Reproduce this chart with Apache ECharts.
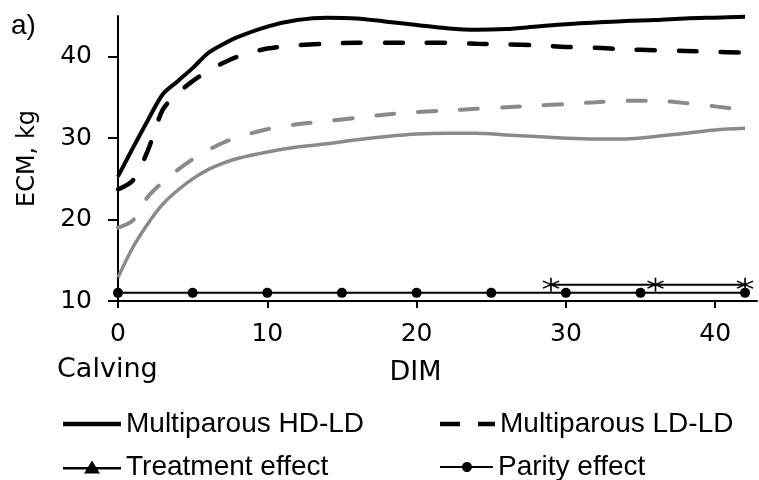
<!DOCTYPE html>
<html lang="en">
<head>
    <meta charset="UTF-8">
    <title>ECM by DIM</title>
    <script type="text/javascript" src="https://cdn.jsdelivr.net/npm/echarts@6/dist/echarts.min.js"></script>
    <style>
        html, body { margin: 0; padding: 0; background: #fff; }
        #main { width: 759px; height: 480px; }
    </style>
</head>
<body>
<div id="main"></div>
<script>
    // days in milk
    var days = [0, 1, 2, 3, 4, 5, 6, 7, 8, 10, 12, 14, 16, 18, 20, 22, 24, 26, 28, 30, 32, 34, 36, 38, 40, 42];
    // multiparous curves (black)
    var multiHD = [25.3, 28.8, 32.2, 35.4, 37.0, 38.6, 40.4, 41.5, 42.4, 43.7, 44.5, 44.8, 44.7, 44.3, 43.9, 43.5, 43.3, 43.4, 43.7, 44.0, 44.2, 44.4, 44.5, 44.7, 44.8, 44.9];
    var multiLD = [23.7, 24.8, 28.5, 33.5, 35.5, 37.0, 38.2, 39.2, 40.0, 41.0, 41.4, 41.6, 41.7, 41.7, 41.7, 41.7, 41.6, 41.5, 41.4, 41.2, 41.1, 40.9, 40.8, 40.7, 40.6, 40.5];
    // primiparous curves (grey)
    var primiDashed = [19.0, 19.9, 22.8, 24.6, 26.1, 27.4, 28.5, 29.4, 30.1, 31.1, 31.7, 32.1, 32.5, 32.9, 33.2, 33.4, 33.6, 33.8, 34.0, 34.2, 34.4, 34.6, 34.6, 34.3, 33.9, 33.4];
    var primiSolid = [12.9, 16.6, 19.5, 21.9, 23.6, 25.0, 26.1, 26.9, 27.5, 28.3, 28.9, 29.3, 29.8, 30.2, 30.5, 30.6, 30.6, 30.4, 30.2, 30.0, 29.9, 29.9, 30.2, 30.6, 31.0, 31.2];
    // significance markers
    var parityDays = [0, 5, 10, 15, 20, 25, 30, 35, 42];
    var parityValues = [11, 11, 11, 11, 11, 11, 11, 11, 11];
    var treatmentDays = [29, 36, 42];
    var treatmentValues = [12, 12, 12];
    // axis ticks
    var xTicks = [0, 10, 20, 30, 40];
    var yTicks = [10, 20, 30, 40];

    function pairs(xs, ys) {
        var res = [];
        for (var i = 0; i < xs.length; i++) {
            res.push([xs[i], ys[i]]);
        }
        return res;
    }

    var axisFont = 'DejaVu Sans';
    var legendText = {fontFamily: '"Liberation Sans", Arial, sans-serif', fontSize: 28, color: '#000'};
    var grey = '#8a8a8a';
    var star = 'path://M10,0 L10,20 M1.34,5 L18.66,15 M1.34,15 L18.66,5';

    // legend icons drawn as paths (line + marker)
    var iconDash = 'path://M0,0 L20,0 L20,4.5 L0,4.5 Z M38,0 L55,0 L55,4.5 L38,4.5 Z';
    var iconTriangle = 'path://M0,6.5 L25,6.5 L29,0 L33,6.5 L58,6.5 L58,9 L34.5,9 L37,13 L21,13 L23.5,9 L0,9 Z';
    var iconDot = 'path://M0,4 L22.1,4 A5,5 0 0 1 31.9,4 L53,4 L53,6 L31.9,6 A5,5 0 0 1 22.1,6 L0,6 Z';

    function legendBox(name, icon, left, top, w, h) {
        return {
            left: left,
            top: top,
            padding: 0,
            itemWidth: w,
            itemHeight: h,
            data: [{name: name, icon: icon}],
            textStyle: legendText
        };
    }

    var mychart = echarts.init(document.getElementById('main'));
    var option = {
        animation: false,
        backgroundColor: '#fff',
        grid: {
            left: 118,
            right: 2,
            top: 16,
            bottom: 179,
            containLabel: false,
            outerBoundsMode: 'none'
        },
        graphic: [
            {
                type: 'text',
                left: 11,
                top: 12,
                style: {text: 'a)', font: '28px "Liberation Sans", Arial', fill: '#000'}
            },
            {
                type: 'text',
                left: 57,
                top: 356,
                style: {text: 'Calving', font: '27px ' + axisFont, fill: '#000'}
            }
        ],
        legend: [
            legendBox('Multiparous HD-LD', 'rect', 63, 410, 58, 4.5),
            legendBox('Treatment effect', iconTriangle, 63, 453, 58, 13),
            legendBox('Multiparous LD-LD', iconDash, 440, 410, 55, 4.5),
            legendBox('Parity effect', iconDot, 440, 453, 53, 10)
        ],
        xAxis: {
            type: 'value',
            min: 0,
            max: 42.8,
            interval: 10,
            name: 'DIM',
            nameLocation: 'middle',
            nameGap: 58,
            nameTextStyle: {fontFamily: axisFont, fontSize: 27, color: '#000', padding: [0, 44, 0, 0]},
            axisLine: {lineStyle: {color: '#000', width: 2}},
            axisTick: {length: 7, lineStyle: {color: '#000', width: 2}, customValues: xTicks},
            axisLabel: {margin: 21, fontFamily: axisFont, fontSize: 25, color: '#000', customValues: xTicks},
            splitLine: {show: false}
        },
        yAxis: {
            type: 'value',
            min: 10,
            max: 45,
            interval: 10,
            name: 'ECM, kg',
            nameLocation: 'middle',
            nameGap: 78,
            nameTextStyle: {fontFamily: axisFont, fontSize: 24, color: '#000'},
            axisLine: {show: true, lineStyle: {color: '#000', width: 2}},
            axisTick: {show: true, length: 10, lineStyle: {color: '#000', width: 2}, customValues: yTicks},
            axisLabel: {margin: 26, fontFamily: axisFont, fontSize: 25, color: '#000', customValues: yTicks},
            splitLine: {show: false}
        },
        series: [
            {
                name: 'Primiparous solid',
                type: 'line',
                smooth: 0.3,
                symbol: 'none',
                data: pairs(days, primiSolid),
                lineStyle: {color: grey, width: 3.5},
                itemStyle: {color: grey}
            },
            {
                name: 'Primiparous dashed',
                type: 'line',
                smooth: 0.3,
                symbol: 'none',
                data: pairs(days, primiDashed),
                lineStyle: {color: grey, width: 4, type: [18, 24], cap: 'round'},
                itemStyle: {color: grey}
            },
            {
                name: 'Multiparous HD-LD',
                type: 'line',
                smooth: 0.3,
                symbol: 'none',
                data: pairs(days, multiHD),
                lineStyle: {color: '#000', width: 4},
                itemStyle: {color: '#000'}
            },
            {
                name: 'Multiparous LD-LD',
                type: 'line',
                smooth: 0.3,
                symbol: 'none',
                data: pairs(days, multiLD),
                lineStyle: {color: '#000', width: 4.5, type: [18, 24], cap: 'round'},
                itemStyle: {color: '#000'}
            },
            {
                name: 'Parity effect',
                type: 'line',
                symbol: 'circle',
                symbolSize: 10,
                data: pairs(parityDays, parityValues),
                lineStyle: {color: '#000', width: 2},
                itemStyle: {color: '#000'}
            },
            {
                // legend entry only, the plot uses asterisks
                name: 'Treatment effect',
                type: 'line',
                symbol: 'triangle',
                data: [],
                lineStyle: {color: '#000', width: 2.5},
                itemStyle: {color: '#000'}
            },
            {
                name: 'Treatment marks',
                type: 'line',
                symbol: star,
                symbolSize: [16, 14],
                data: pairs(treatmentDays, treatmentValues),
                lineStyle: {color: '#000', width: 2},
                itemStyle: {color: 'rgba(0,0,0,0)', borderColor: '#000', borderWidth: 1.5}
            }
        ]
    };
    mychart.setOption(option);
</script>
</body>
</html>
